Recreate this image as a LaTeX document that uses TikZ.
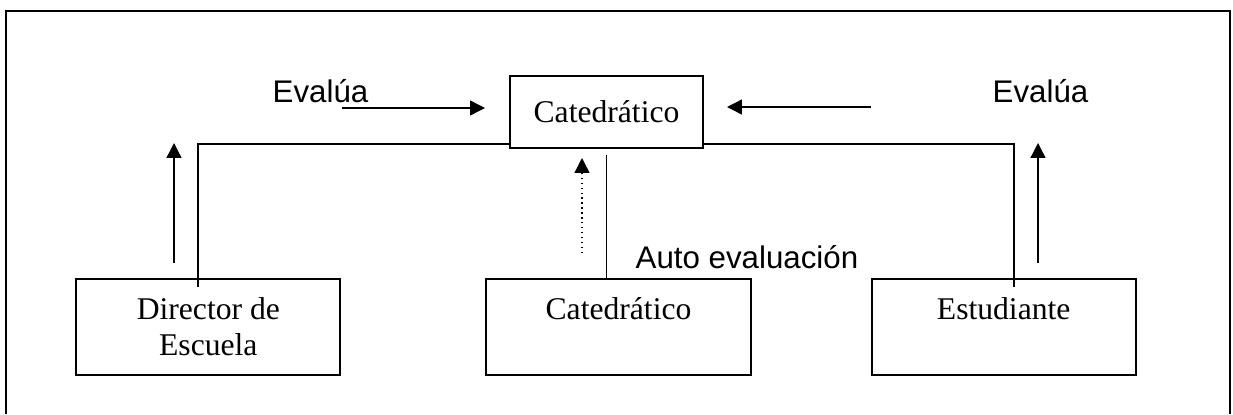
\documentclass[tikz,border=0pt]{standalone}
\usepackage{fontspec}
\setmainfont{Liberation Serif}
\newfontfamily\arialfont{Liberation Sans}
\usetikzlibrary{%
  arrows.meta,% wg. Triangle
  positioning% wg. " of "
}

\begin{document}
\begin{tikzpicture}[x=0.02cm,y=-0.02cm,line width=0.8pt,
    >={Triangle[length=8.5pt,width=8.5pt]},
    box/.style={draw,line width=1pt,align=center,font=\fontsize{18}{21}\selectfont},
    lbl/.style={inner sep=0pt,anchor=base west,font=\arialfont\fontsize{17.8}{21}\selectfont}]
    \useasboundingbox (0,0) rectangle (1233,414);
    %frame
    \draw[line width=1pt] (6,414) -- (6,11) -- (1230,11) -- (1230,414);

    %top
    \node[box, minimum width=3.86cm, minimum height=1.44cm] (cat_top) at (606.5,112) {Catedrático};

    %bottom row
    \node[box, minimum width=5.3cm, minimum height=1.92cm] (cat_bot) [below=2.58cm of cat_top, xshift=0.24cm] {Catedrático\\~};
    \node[box, minimum width=5.28cm, minimum height=1.92cm] (dir) [left=2.88cm of cat_bot] {Director de\\Escuela};
    \node[box, minimum width=5.28cm, minimum height=1.92cm] (est) [right=2.38cm of cat_bot] {Estudiante\\~};

    %labels
    \node[lbl] (evl_left) at (272,102) {Evalúa};
    \node[lbl] (evl_right) at (992,102) {Evalúa};
    \node[lbl] (auto) at (635,268) {Auto evaluación};

    %free ends
    \coordinate (dir_in) at (198,287);
    \coordinate (est_in) at (1014,287);
    \coordinate (l_from) at (342,108);
    \coordinate (l_to) at (485,108);
    \coordinate (r_from) at (871,107);
    \coordinate (r_to) at (727,107);
    \coordinate (dir_up_a) at (174,263);
    \coordinate (dir_up_b) at (174,143);
    \coordinate (est_up_a) at (1038,263);
    \coordinate (est_up_b) at (1038,143);
    \coordinate (self_a) at (582,253);
    \coordinate (self_b) at (582,158);

    %connectors
    \draw (dir_in) |- ([yshift=0.1cm]cat_top.south west);
    \draw ([yshift=0.1cm]cat_top.south east) -| (est_in);
    \draw ([yshift=-0.12cm]cat_top.south) -- (cat_top.south |- cat_bot.north);

    \path[->]
    (l_from) edge (l_to)
    (r_from) edge (r_to)
    (dir_up_a) edge (dir_up_b)
    (est_up_a) edge (est_up_b)
    (self_a) edge[dotted] (self_b);

\end{tikzpicture}
\end{document}
